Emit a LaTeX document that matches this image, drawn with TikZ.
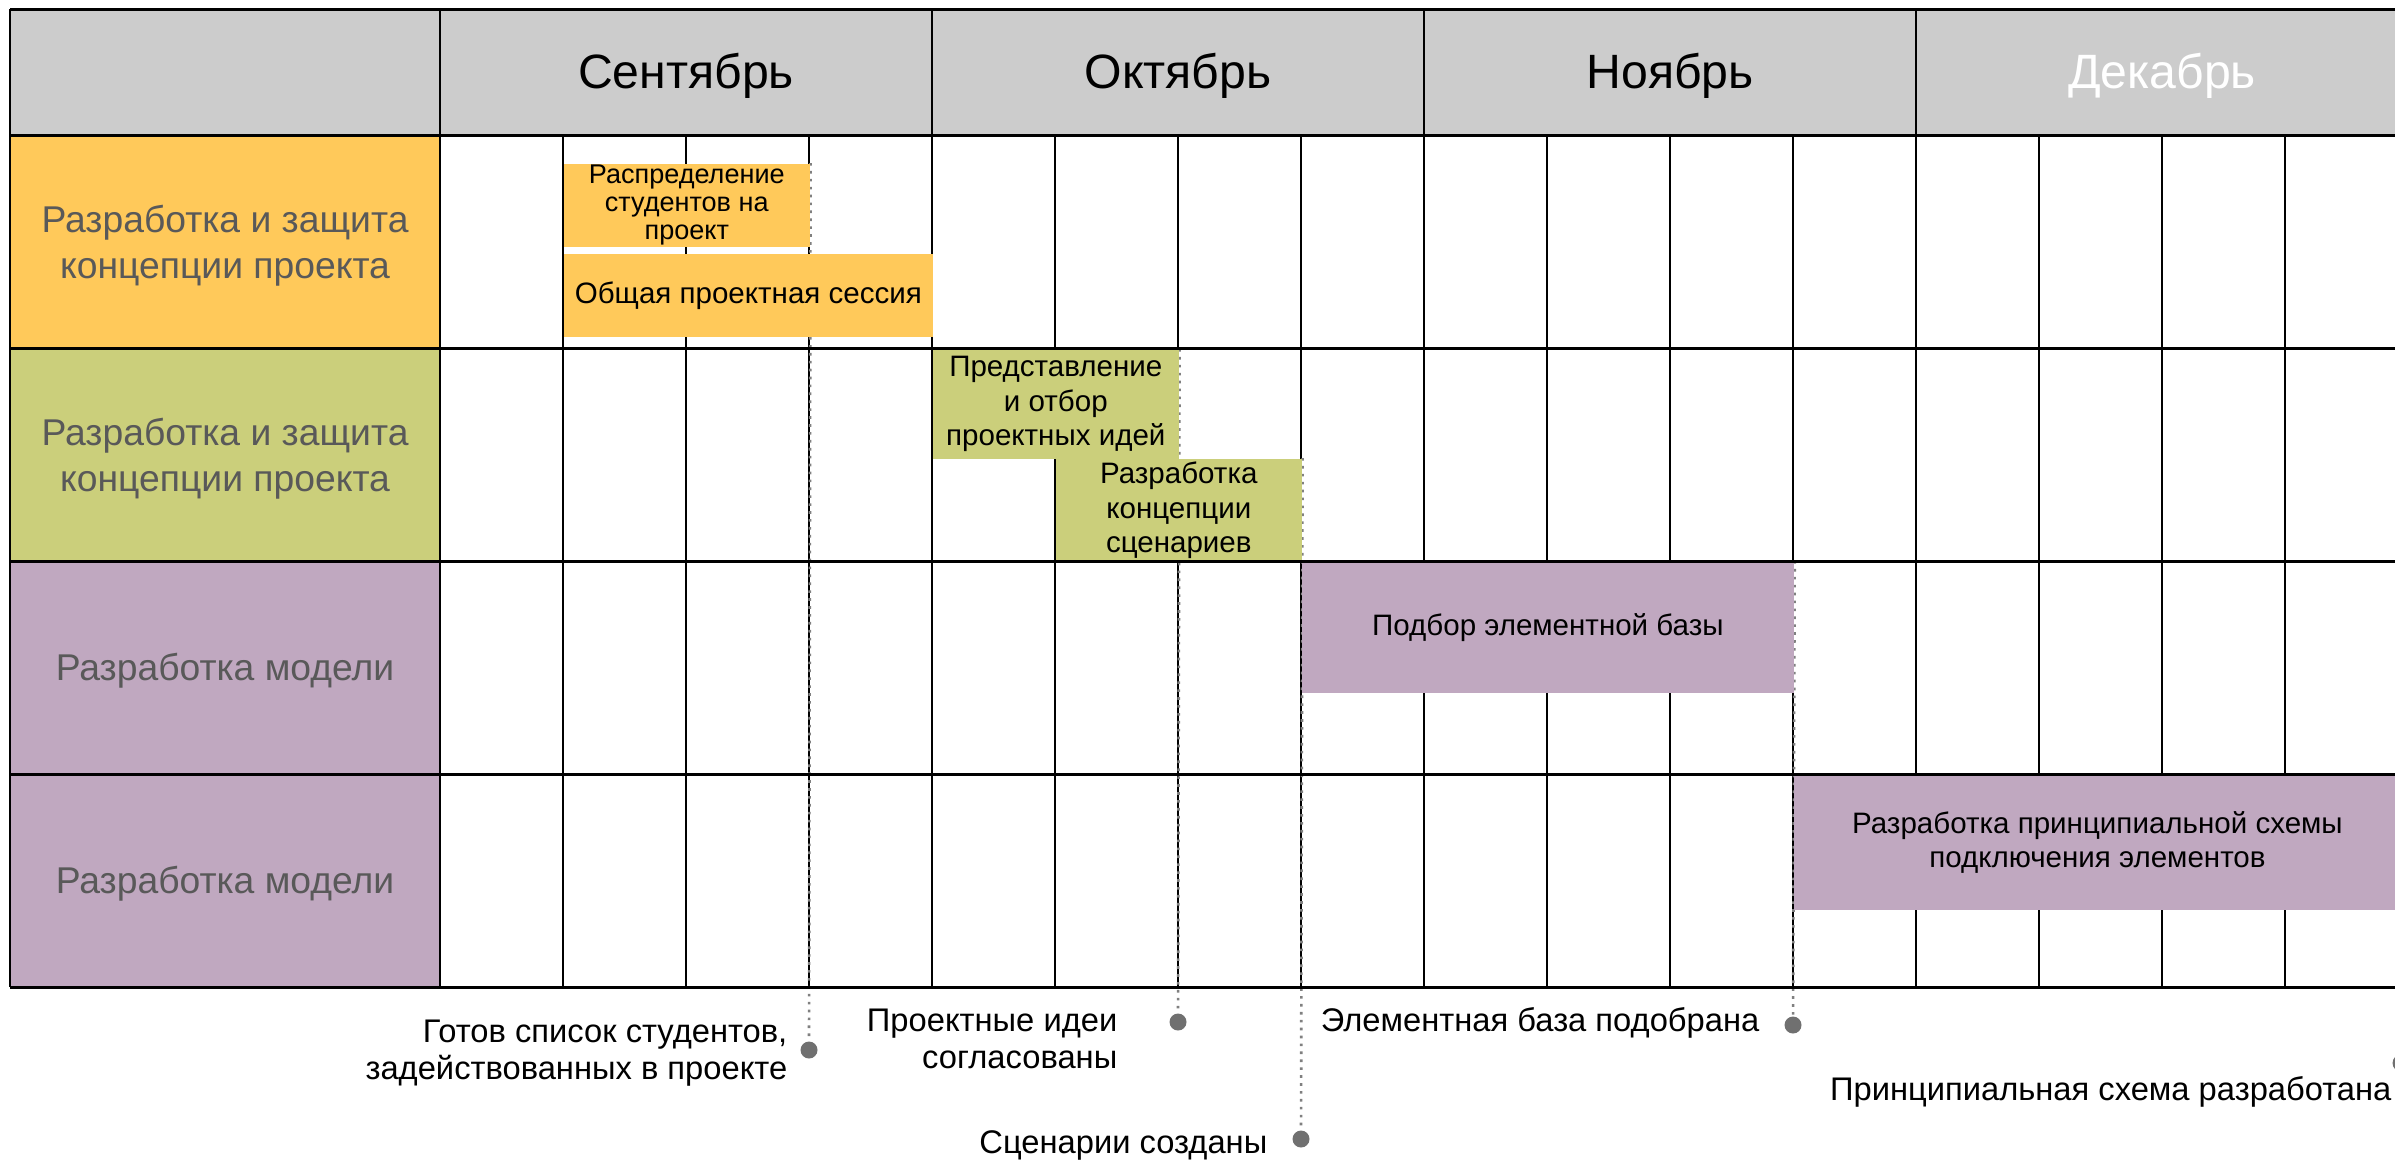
\documentclass[tikz,border=0pt]{standalone}
\usepackage{fontspec}
\setmainfont{Liberation Sans}
\usetikzlibrary{positioning}

\definecolor{headgray}{RGB}{204,204,204}
\definecolor{conceptorange}{RGB}{255,201,90}
\definecolor{ideaolive}{RGB}{203,207,123}
\definecolor{modelmauve}{RGB}{192,168,192}
\definecolor{rowtext}{RGB}{89,89,89}
\definecolor{markgray}{RGB}{128,128,128}
\definecolor{dotgray}{RGB}{112,112,112}

\pgfdeclarelayer{grid}
\pgfdeclarelayer{marks}
\pgfsetlayers{grid,marks,main}

\tikzset{
  taskbar/.style={draw=none, inner sep=0pt, anchor=north west, align=center,
    font=\fontsize{8.4}{9.8}\selectfont},
  rowlabel/.style={inner sep=0pt, align=center, text=rowtext,
    font=\fontsize{10.6}{13}\selectfont},
  monthlabel/.style={inner sep=0pt, font=\fontsize{13.7}{16}\selectfont},
  milestone/.style={circle, fill=dotgray, inner sep=0pt, minimum size=0.17cm},
  milestonetext/.style={inner sep=0pt, font=\fontsize{9.3}{10.5}\selectfont},
  markline/.style={markgray, line width=0.75pt, dash pattern=on 0.75pt off 1.5pt},
}

\begin{document}
\begin{tikzpicture}[x=0.01cm, y=-0.01cm]
\useasboundingbox (0,0) rectangle (2395,1159);

% task bars
\node[taskbar, fill=conceptorange, minimum width=2.46cm, minimum height=0.83cm,
  font=\fontsize{7.7}{8}\selectfont] (b1) at (563,163) {Распределение\\студентов на\\проект};
\node[taskbar, fill=conceptorange, minimum width=3.69cm, minimum height=0.83cm] (b2) at (563,253) {Общая проектная сессия};
\node[taskbar, fill=ideaolive, minimum width=2.46cm, minimum height=1.09cm] (b3) at (932,349) {Представление\\и отбор\\проектных идей};
\node[taskbar, fill=ideaolive, minimum width=2.46cm, minimum height=1.03cm] (b4) at (1055,458) {Разработка\\концепции\\сценариев};
\node[taskbar, fill=modelmauve, minimum width=4.92cm, minimum height=1.31cm] (b5) at (1301,561) {Подбор элементной базы};
\node[taskbar, fill=modelmauve, minimum width=6.07cm, minimum height=1.35cm] (b6) at (1793,774) {Разработка принципиальной схемы\\подключения элементов};

% table
\begin{pgfonlayer}{grid}
\fill[headgray] (10,9) rectangle (2420,135);
\fill[conceptorange] (10,135) rectangle (440,348);
\fill[ideaolive] (10,348) rectangle (440,561);
\fill[modelmauve] (10,561) rectangle (440,987);
\foreach \k in {1,...,15}
  \draw[line width=0.6pt] (440+123*\k,135) -- (440+123*\k,987);
\foreach \k in {0,4,8,12,16}
  \draw[line width=0.6pt] (440+123*\k,9) -- (440+123*\k,135);
\draw[line width=0.7pt] (440,135) -- (440,987);
\end{pgfonlayer}

\foreach \y in {9,135,348,561,774,987}
  \draw[line width=0.85pt] (10,\y) -- (2420,\y);
\draw[line width=0.85pt] (10,9) -- (10,987);

% months
\node[monthlabel] (sep) at (686,76) {Сентябрь};
\node[monthlabel] (oct) at (1178,76) {Октябрь};
\node[monthlabel] (nov) at (1670,76) {Ноябрь};
\node[monthlabel, text=white] (dec) at (2162,76) {Декабрь};

% stages
\node[rowlabel] (r1) at (225,246) {Разработка и защита\\концепции проекта};
\node[rowlabel] (r2) at (225,459) {Разработка и защита\\концепции проекта};
\node[rowlabel] (r3) at (225,671) {Разработка модели};
\node[rowlabel] (r4) at (225,884) {Разработка модели};

% milestones
\node[milestone] (m1) at (809,1050) {};
\node[milestone] (m2) at (1178,1022) {};
\node[milestone] (m3) at (1301,1139) {};
\node[milestone] (m4) at (1793,1025) {};
\node[milestone] (m5) at (2401,1063) {};

\node[milestonetext, anchor=east, align=right] (t1) at (788,1053) {Готов список студентов,\\задействованных в проекте};
\node[milestonetext, anchor=east, align=right] (t2) at (1118,1039) {Проектные идеи\\согласованы};
\node[milestonetext, anchor=east] (t3) at (1268,1145) {Сценарии созданы};
\node[milestonetext, anchor=east] (t4) at (1760,1023) {Элементная база подобрана};
\node[milestonetext, anchor=east] (t5) at (2392,1092) {Принципиальная схема разработана};

\begin{pgfonlayer}{marks}
\draw[markline] (b1.north east) -- (m1);
\draw[markline] (b3.north east) -- (m2);
\draw[markline] (b4.north east) -- (m3);
\draw[markline] (b5.north east) -- (m4);
\draw[markline] (b6.north east) -- (m5);
\end{pgfonlayer}
\end{tikzpicture}
\end{document}
